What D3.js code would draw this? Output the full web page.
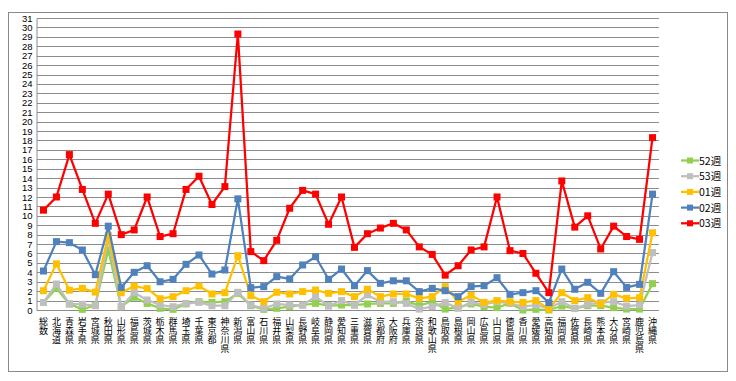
<!DOCTYPE html>
<html><head><meta charset="utf-8">
<script src="https://cdn.jsdelivr.net/npm/d3@7"></script>
<style>body{margin:0;background:#fff}svg{display:block}</style>
</head><body>
<script>
const categories = ["総数","北海道","青森県","岩手県","宮城県","秋田県","山形県","福島県","茨城県","栃木県","群馬県","埼玉県","千葉県","東京都","神奈川県","新潟県","富山県","石川県","福井県","山梨県","長野県","岐阜県","静岡県","愛知県","三重県","滋賀県","京都府","大阪府","兵庫県","奈良県","和歌山県","鳥取県","島根県","岡山県","広島県","山口県","徳島県","香川県","愛媛県","高知県","福岡県","佐賀県","長崎県","熊本県","大分県","宮崎県","鹿児島県","沖縄県"];
const w52 = [0.8,2.3,0.64,0.07,0.5,6.4,0.35,1.35,0.7,0.18,0.07,0.64,0.88,0.81,0.88,1.77,0.46,0.07,0.18,0.35,0.53,0.7,0.46,0.53,0.53,0.64,0.7,0.7,0.95,0.46,0.88,0.1,0.28,0.64,0.35,0.25,0.7,0,0.07,0,0.42,0.18,0.46,0.46,0.25,0.1,0.1,2.8];
const w53 = [0.8,2.76,0.64,0.6,0.46,7.6,0.35,1.84,1.06,0.53,0.35,0.7,0.81,0.46,0.46,1.88,0.53,0.18,0.64,0.53,0.53,1.42,0.42,1.0,0.53,1.6,0.88,0.88,0.7,0.1,0.35,0.78,0.18,0.81,0.6,0.88,0.7,0.35,0.53,0.18,0.88,0.18,0.6,0.78,0.88,0.42,0.53,6.1];
const w01 = [2.05,4.9,2.1,2.3,1.9,7.9,1.84,2.55,2.27,1.2,1.42,2.05,2.55,1.7,1.84,5.77,1.52,0.88,1.88,1.7,1.95,2.12,1.77,1.95,1.42,2.2,1.42,1.7,1.7,1.24,1.42,2.48,0.88,1.56,0.81,1.0,0.88,0.81,1.0,0.1,1.84,1.0,1.31,0.64,1.66,1.24,1.31,8.2];
const w02 = [4.14,7.26,7.15,6.37,3.75,8.9,2.4,4.0,4.7,3.0,3.26,4.85,5.84,3.82,4.25,11.8,2.37,2.48,3.54,3.3,4.78,5.66,3.26,4.35,2.58,4.18,2.83,3.1,3.1,1.95,2.3,2.05,1.42,2.48,2.58,3.43,1.66,1.84,2.05,0.78,4.35,2.2,2.94,1.77,4.07,2.4,2.72,12.3];
const w03 = [10.6,12.0,16.5,12.8,9.2,12.3,8.0,8.5,12.0,7.8,8.1,12.8,14.2,11.2,13.1,29.3,6.2,5.24,7.4,10.8,12.7,12.3,9.1,12.0,6.65,8.1,8.7,9.2,8.5,6.7,5.9,3.7,4.7,6.37,6.7,12.0,6.3,6.0,3.9,1.84,13.7,8.8,10.0,6.48,8.9,7.8,7.5,18.3];
const seriesNames = ["52週","53週","01週","02週","03週"];
const seriesColors = ["#92D050","#BFBFBF","#FFC000","#4F81BD","#FF0000"];
const yTicks = d3.range(0, 32);

const series = [w52, w53, w01, w02, w03].map((v, i) => ({name: seriesNames[i], color: seriesColors[i], values: v}));

const W = 736, H = 381;
const svg = d3.select("body").append("svg").attr("width", W).attr("height", H);
svg.append("rect").attr("x", 8.5).attr("y", 12.5).attr("width", 719).attr("height", 359)
  .attr("fill", "#fff").attr("stroke", "#898989").attr("stroke-width", 1);

const x = d3.scalePoint().domain(categories).range([37, 659]).padding(0.5);
const y = d3.scaleLinear().domain([0, 31]).range([310, 18]);

// gridlines
svg.append("g").selectAll("line").data(yTicks).join("line")
  .attr("x1", 37).attr("x2", 659)
  .attr("y1", d => Math.round(y(d)) + 0.5).attr("y2", d => Math.round(y(d)) + 0.5)
  .attr("stroke", "#8c8c8c").attr("stroke-width", 1);

// y axis
const yAxis = d3.axisLeft(y).tickValues(yTicks).tickSize(0).tickPadding(4);
const gy = svg.append("g").attr("transform", "translate(36.5,0)").call(yAxis);
gy.select(".domain").attr("stroke", "#8c8c8c");
gy.selectAll("text").attr("font-family", "Liberation Sans, Arial, sans-serif").attr("font-size", 9.5).attr("fill", "#000");

// x axis labels (vertical stacked characters)
const gx = svg.append("g");
categories.forEach(c => {
  const t = gx.append("text").attr("font-family", "Noto Sans CJK JP, sans-serif").attr("font-size", 9)
    .attr("fill", "#000").attr("text-anchor", "middle");
  Array.from(c).forEach((ch, k) => {
    t.append("tspan").attr("x", x(c)).attr("y", 325 + k * 9).text(ch);
  });
});

// lines
const line = d3.line().x((d, i) => x(categories[i])).y(d => y(d));
series.forEach(s => {
  const g = svg.append("g");
  g.append("path").datum(s.values).attr("d", line).attr("fill", "none")
    .attr("stroke", s.color).attr("stroke-width", 2.25).attr("stroke-linejoin", "round");
  g.selectAll("rect").data(s.values).join("rect")
    .attr("x", (d, i) => x(categories[i]) - 3.5).attr("y", d => y(d) - 3.5)
    .attr("width", 7).attr("height", 7).attr("fill", s.color);
});

// legend
const lg = svg.append("g");
series.forEach((s, i) => {
  const ly = 160.5 + i * 15.7;
  lg.append("line").attr("x1", 681).attr("x2", 699).attr("y1", ly).attr("y2", ly)
    .attr("stroke", s.color).attr("stroke-width", 2.25);
  lg.append("rect").attr("x", 687).attr("y", ly - 3).attr("width", 6).attr("height", 6).attr("fill", s.color);
  lg.append("text").attr("x", 699).attr("y", ly + 4).attr("font-family", "Noto Sans CJK JP, sans-serif")
    .attr("font-size", 10.5).attr("fill", "#000").text(s.name);
});
</script>
</body></html>
